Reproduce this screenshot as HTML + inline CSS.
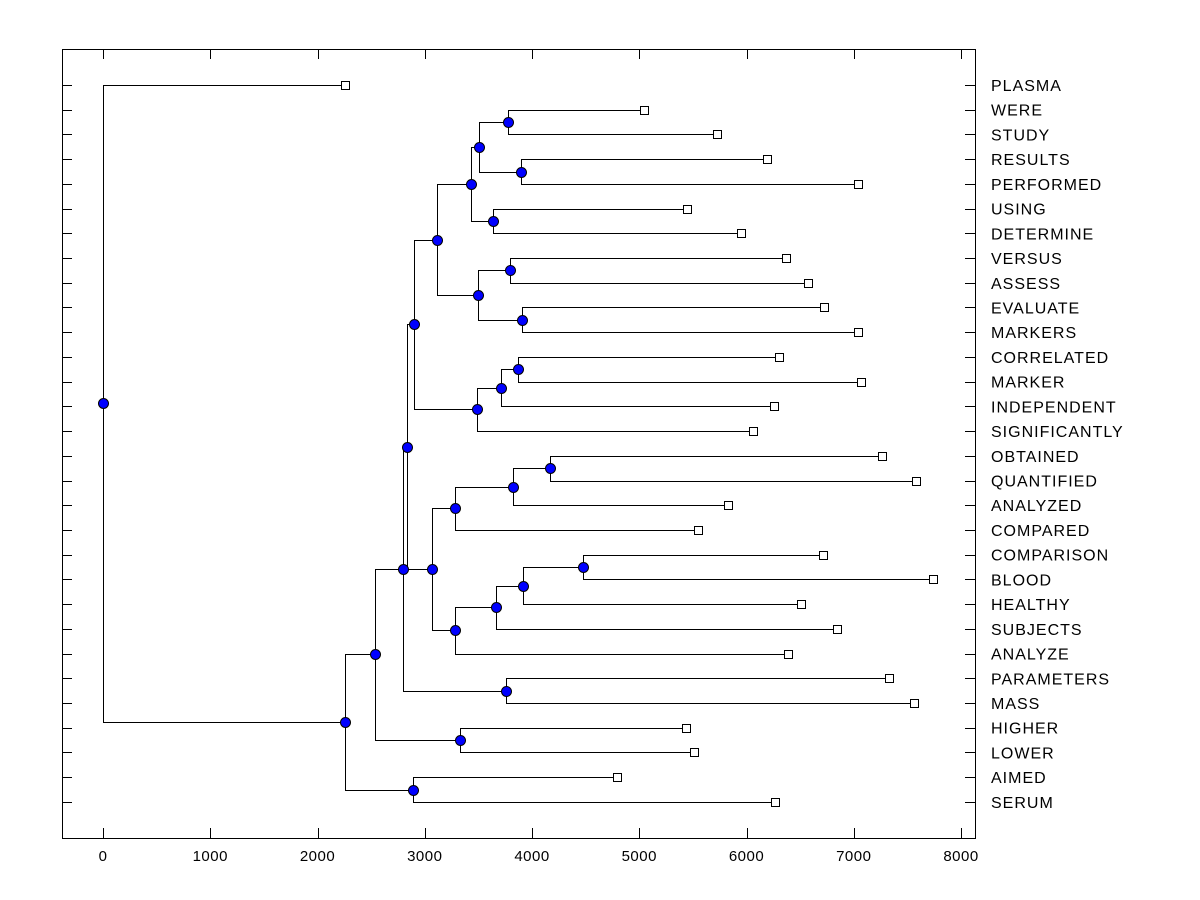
<!DOCTYPE html>
<html><head><meta charset="utf-8"><style>
html,body{margin:0;padding:0;background:#fff;width:1200px;height:900px;overflow:hidden}
text{font-family:"Liberation Sans",Arial,sans-serif;fill:#000}
</style></head><body>
<svg id="chart" width="1200" height="900" xmlns="http://www.w3.org/2000/svg"></svg>
<script>
const leafLabels=["PLASMA","WERE","STUDY","RESULTS","PERFORMED","USING","DETERMINE","VERSUS","ASSESS","EVALUATE","MARKERS","CORRELATED","MARKER","INDEPENDENT","SIGNIFICANTLY","OBTAINED","QUANTIFIED","ANALYZED","COMPARED","COMPARISON","BLOOD","HEALTHY","SUBJECTS","ANALYZE","PARAMETERS","MASS","HIGHER","LOWER","AIMED","SERUM"];
const leafValues=[2256,5044,5725,6191,7040,5445,5949,6368,6573,6723,7040,6303,7068,6256,6061,7263,7580,5828,5548,6713,7739,6508,6844,6387,7329,7562,5436,5510,4793,6266];
const mergeLeft=[1,3,30,5,32,7,9,35,34,11,39,40,38,15,43,44,19,46,47,48,45,42,24,51,26,53,28,55,0];
const mergeRight=[2,4,31,6,33,8,10,36,37,12,13,14,41,16,17,18,20,21,22,23,49,50,25,52,27,54,29,56,57];
const mergeHeights=[3776,3897,3506,3636,3431,3795,3907,3497,3114,3869,3711,3487,2900,4168,3823,3282,4476,3916,3664,3282,3068,2835,3758,2797,3329,2536,2890,2256,0];
const xTicks=[0,1000,2000,3000,4000,5000,6000,7000,8000];

const svg=document.getElementById('chart');
const NS='http://www.w3.org/2000/svg';
const L=62,R=975,T=49,B=838;
const xs=v=>103+v*0.10725;
const ys=i=>85+i*24.72;
function mk(tag,attrs,parent){const e=document.createElementNS(NS,tag);for(const k in attrs)e.setAttribute(k,attrs[k]);(parent||svg).appendChild(e);return e;}

const frame=mk('rect',{x:L+0.5,y:T+0.5,width:R-L,height:B-T,fill:'none',stroke:'#000','stroke-width':1});



const axisG=mk('g',{});


xTicks.forEach(t=>{
  const x=Math.round(xs(t))+0.5;
  mk('line',{x1:x,x2:x,y1:B,y2:B-10,stroke:'#000'},axisG);
  mk('line',{x1:x,x2:x,y1:T,y2:T+10,stroke:'#000'},axisG);
  const tx=mk('text',{x:xs(t),y:861,'text-anchor':'middle','font-size':15,'letter-spacing':0.5},axisG);
  tx.textContent=t;
  
  
});

const pos={};
leafLabels.forEach((n,i)=>{pos[i]={x:xs(leafValues[i]),y:ys(i)};});
const linesG=mk('g',{stroke:'#000',fill:'none'});


const nodes=[];
mergeHeights.forEach((h,k)=>{
  const a=pos[mergeLeft[k]],b=pos[mergeRight[k]];
  const x=xs(h),y=(a.y+b.y)/2;
  pos[30+k]={x,y};
  const p=mk('path',{d:`M${a.x},${Math.round(a.y)+0.5}H${Math.round(x)+0.5}V${Math.round(b.y)+0.5}H${b.x}`},linesG);
  
  
  nodes.push({x,y});
});

const labG=mk('g',{});


leafLabels.forEach((n,i)=>{
  const y=Math.round(ys(i))+0.5;
  mk('line',{x1:L,x2:L+10,y1:y,y2:y,stroke:'#000'},labG);
  mk('line',{x1:R-10,x2:R,y1:y,y2:y,stroke:'#000'},labG);
  const t=mk('text',{x:991,y:ys(i)+6,'font-size':16,'letter-spacing':1},labG);
  t.textContent=n;
  
  
  const s=mk('rect',{x:Math.round(pos[i].x)-3.5,y:Math.round(ys(i))-3.5,width:8,height:8,fill:'#fff',stroke:'#000'});
  
  
});
nodes.forEach(n=>{
  const c=mk('circle',{cx:Math.round(n.x)+0.5,cy:Math.round(n.y)+0.5,r:5,fill:'#0000ff',stroke:'#000','stroke-width':1});
  
  
});
</script>
</body></html>
